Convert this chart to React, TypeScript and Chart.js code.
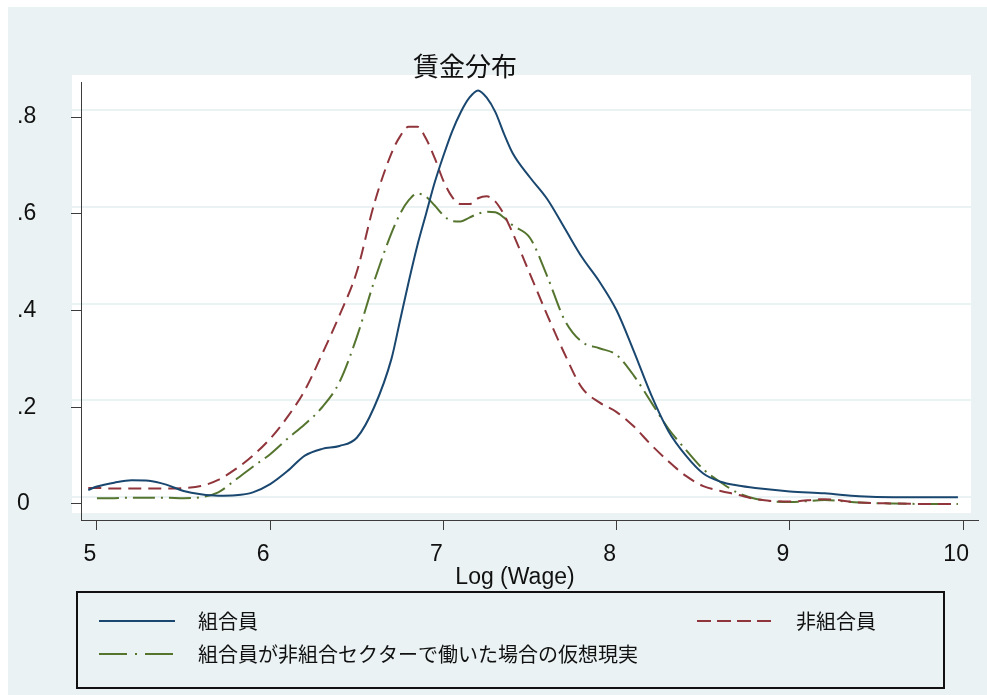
import React, { useEffect, useRef } from 'react';
import { Chart, registerables } from 'chart.js';

Chart.register(...registerables);

const titleText = '賃金分布';
const xAxisTitle = 'Log (Wage)';
const seriesLabels = ['組合員', '非組合員', '組合員が非組合セクターで働いた場合の仮想現実'];
const xTicks = [5, 6, 7, 8, 9, 10];
const yTicks = [0, 0.2, 0.4, 0.6, 0.8];

const logWage = [
  4.95, 5.0, 5.1, 5.2, 5.3, 5.4, 5.5, 5.6, 5.7, 5.8, 5.9, 6.0, 6.1, 6.2, 6.3, 6.4, 6.5, 6.6, 6.7, 6.75,
  6.8, 6.85, 6.9, 6.95, 7.0, 7.05, 7.1, 7.15, 7.2, 7.25, 7.3, 7.35, 7.4, 7.5, 7.6, 7.7, 7.8, 7.9, 8.0,
  8.1, 8.2, 8.3, 8.4, 8.5, 8.6, 8.7, 8.8, 9.0, 9.2, 9.4, 9.6, 9.8, 9.97,
];

const unionDensity = [
  0.029, 0.036, 0.044, 0.049, 0.048, 0.04, 0.027, 0.02, 0.017, 0.018, 0.024, 0.041, 0.068, 0.1, 0.114,
  0.12, 0.137, 0.2, 0.3, 0.38, 0.46, 0.535, 0.6, 0.665, 0.72, 0.77, 0.81, 0.84, 0.855, 0.84, 0.81, 0.765,
  0.725, 0.675, 0.63, 0.57, 0.51, 0.46, 0.4, 0.315, 0.225, 0.15, 0.1, 0.063, 0.046, 0.038, 0.033, 0.026,
  0.022, 0.016, 0.014, 0.014, 0.014,
];

const nonUnionDensity = [
  0.033, 0.033, 0.032, 0.032, 0.032, 0.032, 0.033, 0.037, 0.05, 0.072, 0.1, 0.135, 0.18, 0.235, 0.31,
  0.39, 0.48, 0.62, 0.725, 0.76, 0.78, 0.78, 0.755, 0.715, 0.668, 0.635, 0.62, 0.62, 0.632, 0.636, 0.625,
  0.598, 0.56, 0.475, 0.39, 0.31, 0.24, 0.21, 0.19, 0.16, 0.122, 0.088, 0.058, 0.037, 0.027, 0.019, 0.01,
  0.005, 0.01, 0.003, 0.001, 0.0, 0.0,
];

const counterfactualDensity = [
  null, 0.012, 0.012, 0.013, 0.013, 0.013, 0.012, 0.014, 0.024, 0.05, 0.077, 0.103, 0.135, 0.165, 0.2,
  0.252, 0.345, 0.46, 0.56, 0.6, 0.628, 0.642, 0.635, 0.617, 0.597, 0.585, 0.584, 0.592, 0.6, 0.604,
  0.603, 0.592, 0.576, 0.55, 0.47, 0.38, 0.335, 0.322, 0.308, 0.265, 0.21, 0.155, 0.112, 0.072, 0.045,
  0.023, 0.011, 0.004, 0.008, 0.003, 0.001, 0.0, 0.0,
];

const BG = '#eaf2f3';
const AXIS = '#3c3c3c';
const NUM_FONT = '"Liberation Sans", Arial, sans-serif';
const CJK_FONT = '"Noto Sans CJK JP", "Noto Sans CJK SC", sans-serif';
const colors = ['#1a476f', '#90353b', '#55752f'];
const dashes: number[][] = [[], [13, 7], [22, 6, 2, 6]];
const legendDashes: number[][] = [[], [14, 6], [28, 8, 2, 8]];

const toPoints = (arr: (number | null)[]) =>
  logWage.map((x, i) => ({ x, y: arr[i] })).filter((p) => p.y !== null) as { x: number; y: number }[];

const stataPlugin = {
  id: 'stataStyle',
  beforeDraw(chart: any) {
    const { ctx, chartArea: a, width, height } = chart;
    ctx.save();
    ctx.fillStyle = BG;
    ctx.fillRect(0, 0, width, height);
    const L = a.left - 9;
    const R = a.right - 7;
    const T = a.top - 7;
    const B = a.bottom - 7;
    ctx.fillStyle = '#ffffff';
    ctx.fillRect(L, T, R - L, B - T);
    const ys = chart.scales.y;
    ctx.strokeStyle = BG;
    ctx.lineWidth = 2;
    ys.ticks.forEach((t: any) => {
      const p = Math.round(ys.getPixelForValue(t.value) - 7);
      ctx.beginPath();
      ctx.moveTo(L, p);
      ctx.lineTo(R, p);
      ctx.stroke();
    });
    ctx.restore();
  },
  afterDraw(chart: any) {
    const { ctx } = chart;
    ctx.save();
    ctx.fillStyle = '#111';
    ctx.textAlign = 'center';
    ctx.textBaseline = 'middle';
    ctx.font = `26px ${CJK_FONT}`;
    ctx.fillText(titleText, 457, 59);
    ctx.font = `23px ${NUM_FONT}`;
    ctx.fillText(xAxisTitle, 507, 571);
    ctx.strokeStyle = '#111';
    ctx.lineWidth = 2;
    ctx.strokeRect(69, 585, 867, 96);
    const items = [
      { idx: 0, x: 91, y: 614 },
      { idx: 1, x: 689, y: 614 },
      { idx: 2, x: 91, y: 647 },
    ];
    ctx.font = `20px ${CJK_FONT}`;
    ctx.textAlign = 'left';
    items.forEach((it) => {
      const ds = chart.data.datasets[it.idx];
      ctx.strokeStyle = ds.borderColor;
      ctx.lineWidth = 2;
      ctx.setLineDash(legendDashes[it.idx]);
      ctx.beginPath();
      ctx.moveTo(it.x, it.y);
      ctx.lineTo(it.x + 76, it.y);
      ctx.stroke();
      ctx.setLineDash([]);
      ctx.fillStyle = '#111';
      ctx.fillText(ds.label, it.x + 99, it.y);
    });
    ctx.restore();
  },
};

export default function App() {
  const ref = useRef<HTMLCanvasElement | null>(null);
  useEffect(() => {
    if (!ref.current) return;
    const series = [unionDensity, nonUnionDensity, counterfactualDensity];
    const chart = new Chart(ref.current, {
      type: 'line',
      data: {
        datasets: series.map((arr, i) => ({
          label: seriesLabels[i],
          data: toPoints(arr),
          borderColor: colors[i],
          backgroundColor: colors[i],
          borderWidth: 2,
          borderDash: dashes[i],
          pointRadius: 0,
          fill: false,
          cubicInterpolationMode: 'monotone' as const,
        })),
      },
      options: {
        animation: false,
        responsive: false,
        layout: { padding: { left: 9, right: 5, top: 75, bottom: 125 } },
        plugins: {
          legend: { display: false },
          title: { display: false },
          tooltip: { enabled: false },
        },
        scales: {
          x: {
            type: 'linear',
            min: 4.908,
            max: 10.086,
            afterBuildTicks: (s: any) => {
              s.ticks = xTicks.map((v) => ({ value: v }));
            },
            afterFit: (s: any) => {
              s.height = 50;
            },
            ticks: {
              color: '#111',
              font: { family: NUM_FONT, size: 23 },
              padding: 11,
              labelOffset: -7,
              maxRotation: 0,
              autoSkip: false,
              callback: (v: any) => String(v),
            },
            grid: {
              drawOnChartArea: false,
              drawTicks: true,
              tickLength: 10,
              tickColor: AXIS,
              tickWidth: 1,
            },
            border: { display: true, color: AXIS, width: 1 },
          },
          y: {
            type: 'linear',
            min: -0.0331,
            max: 0.8724,
            afterBuildTicks: (s: any) => {
              s.ticks = yTicks.map((v) => ({ value: v }));
            },
            afterFit: (s: any) => {
              s.width = 64;
            },
            ticks: {
              color: '#111',
              font: { family: NUM_FONT, size: 23 },
              crossAlign: 'far',
              autoSkip: false,
              callback: (v: any) => (v === 0 ? '0' : Number(v).toFixed(1).replace(/^0/, '')),
            },
            grid: {
              drawOnChartArea: false,
              drawTicks: true,
              tickLength: 10,
              tickColor: AXIS,
              tickWidth: 1,
            },
            border: { display: true, color: AXIS, width: 1 },
          },
        },
      },
      plugins: [stataPlugin],
    });
    return () => chart.destroy();
  }, []);
  return (
    <div style={{ position: 'fixed', left: 8, top: 7, width: 979, height: 688 }}>
      <canvas ref={ref} width={979} height={688} style={{ display: 'block' }} />
    </div>
  );
}
